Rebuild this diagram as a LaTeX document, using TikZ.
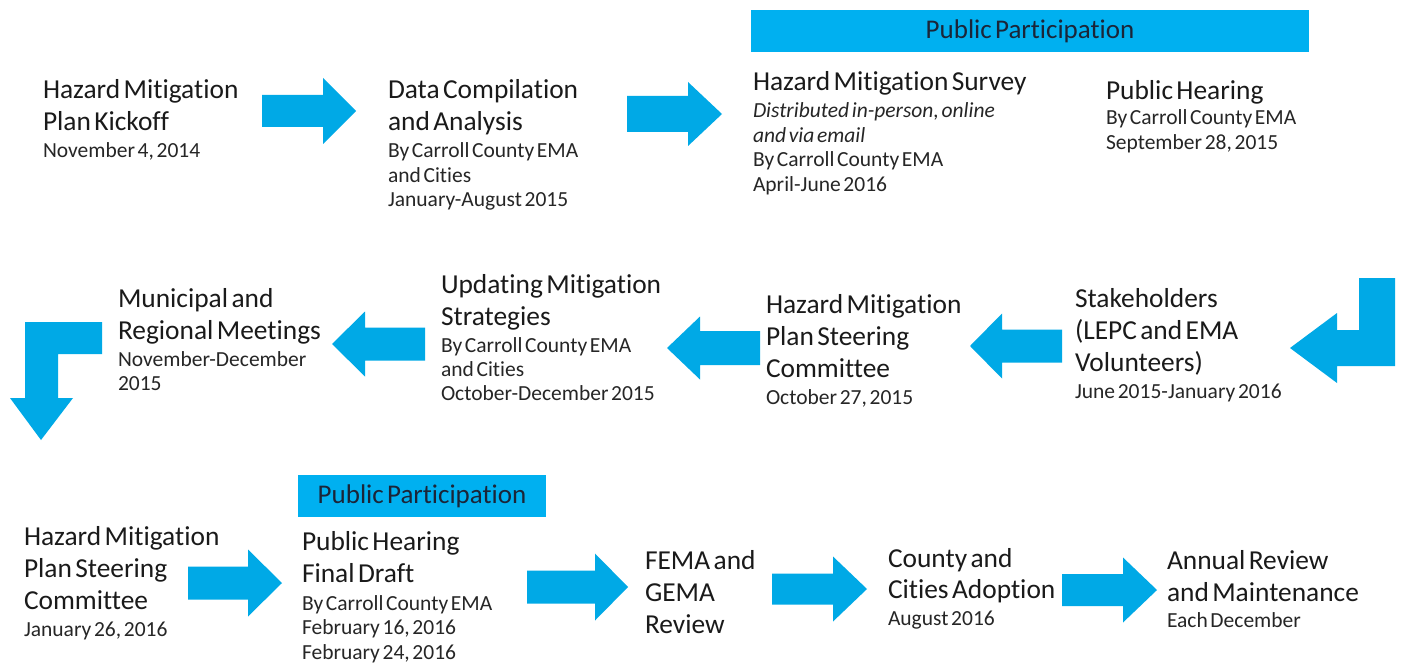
\documentclass[tikz,border=0pt]{standalone}
\usepackage{fontspec}
\setmainfont{Carlito}[WordSpace=0.55, Ligatures={NoCommon,NoContextual}]
\definecolor{arrowblue}{HTML}{00A9E6}
\definecolor{bannerblue}{HTML}{00B0F0}
\definecolor{headcol}{HTML}{1A1A1A}
\definecolor{subcol}{HTML}{262626}
\definecolor{bannertext}{HTML}{1B2538}

% line helpers for the stacked text blocks
\newcommand\bigln[1]{\hbox{\fontsize{27.4}{32}\selectfont\color{headcol}#1}}
\newcommand\smln[1]{\hbox{\fontsize{21.5}{24.5}\selectfont\color{subcol}#1}}
\newcommand\itln[1]{\hbox{\fontsize{21.5}{24.5}\selectfont\itshape\color{subcol}#1}}
\newcommand\sk[1]{\baselineskip=#1pt\relax}
\newcommand\stack[1]{\vtop{\lineskiplimit=-1000pt\relax #1}}

% horizontal block arrow: tail x, head base x, tip x, centre y, shaft half, head half
\newcommand\harrow[6]{%
  \fill[arw] (#1,#4-#5) -- (#2,#4-#5) -- (#2,#4-#6) -- (#3,#4)
     -- (#2,#4+#6) -- (#2,#4+#5) -- (#1,#4+#5) -- cycle;}

\tikzset{
  arw/.style={fill=arrowblue},
  blk/.style={anchor=base west, inner sep=0pt, outer sep=0pt},
  banner/.style={fill=bannerblue, inner sep=0pt, text=bannertext,
    font=\fontsize{27}{32}\selectfont},
}

\begin{document}
\begin{tikzpicture}[x=1pt, y=-1pt]
\fill[white] (0,0) rectangle (1407,663);
\useasboundingbox (0,0) rectangle (1407,663);

% banners
\node[banner, minimum width=558pt, minimum height=42pt] (pp1) at (1030,31) {Public Participation};
\node[banner, minimum width=248pt, minimum height=42pt] (pp2) at (422,496) {Public Participation};

% first row
\node[blk] (kick) at (43,99) {\stack{\sk{32}\bigln{Hazard Mitigation}\bigln{Plan Kickoff}%
  \sk{27}\smln{November 4, 2014}}};
\node[blk] (data) at (388,99) {\stack{\sk{32}\bigln{Data Compilation}\bigln{and Analysis}%
  \sk{27}\smln{By Carroll County EMA}\sk{24.5}\smln{and Cities}\smln{January-August 2015}}};
\node[blk] (survey) at (753,91) {\stack{\sk{32}\bigln{Hazard Mitigation Survey}%
  \sk{27}\itln{Distributed in-person, online}\sk{24.5}\itln{and via email}%
  \smln{By Carroll County EMA}\smln{April-June 2016}}};
\node[blk] (hear1) at (1106,100) {\stack{\sk{32}\bigln{Public Hearing}%
  \sk{25}\smln{By Carroll County EMA}\smln{September 28, 2015}}};

% second row
\node[blk] (muni) at (118,307) {\stack{\sk{32}\bigln{Municipal and}\bigln{Regional Meetings}%
  \sk{27}\smln{November-December}\sk{24}\smln{2015}}};
\node[blk] (upd) at (441,293) {\stack{\sk{32}\bigln{Updating Mitigation}\bigln{Strategies}%
  \sk{27}\smln{By Carroll County EMA}\sk{24}\smln{and Cities}\smln{October-December 2015}}};
\node[blk] (steer1) at (766,313) {\stack{\sk{32}\bigln{Hazard Mitigation}\bigln{Plan Steering}\bigln{Committee}%
  \sk{27}\smln{October 27, 2015}}};
\node[blk] (stake) at (1075,307) {\stack{\sk{32}\bigln{Stakeholders}\bigln{(LEPC and EMA}\bigln{Volunteers)}%
  \sk{27}\smln{June 2015-January 2016}}};

% third row
\node[blk] (steer2) at (24,545) {\stack{\sk{32}\bigln{Hazard Mitigation}\bigln{Plan Steering}\bigln{Committee}%
  \sk{27}\smln{January 26, 2016}}};
\node[blk] (hear2) at (302,550) {\stack{\sk{32}\bigln{Public Hearing}\bigln{Final Draft}%
  \sk{28}\smln{By Carroll County EMA}\sk{24.5}\smln{February 16, 2016}\smln{February 24, 2016}}};
\node[blk] (fema) at (645,569) {\stack{\sk{32}\bigln{FEMA and}\bigln{GEMA}\bigln{Review}}};
\node[blk] (county) at (888,567) {\stack{\sk{31}\bigln{County and}\bigln{Cities Adoption}%
  \sk{27}\smln{August 2016}}};
\node[blk] (annual) at (1167,569) {\stack{\sk{32}\bigln{Annual Review}\bigln{and Maintenance}%
  \sk{26}\smln{Each December}}};

% block arrows, first row
\harrow{262}{323}{356}{111}{16}{33}
\harrow{627}{688}{722}{114}{18}{32}

% turn from first row into second row
\fill[arw] (1395,278) -- (1395,366) -- (1337,366) -- (1337,383) -- (1290,348)
  -- (1337,313) -- (1337,330) -- (1359,330) -- (1359,278) -- cycle;

% block arrows, second row
\harrow{1062}{1002}{970}{346}{16.5}{32.5}
\harrow{760}{700}{667}{348}{17}{31.5}
\harrow{425}{365}{332}{344}{16.5}{32.5}

% turn from second row into third row
\fill[arw] (25,322) -- (102,322) -- (102,354) -- (58,354) -- (58,398) -- (73,398)
  -- (41,440) -- (10,398) -- (25,398) -- cycle;

% block arrows, third row
\harrow{188}{248}{282}{583}{16.5}{33.5}
\harrow{527}{595}{628}{587}{16.5}{33.5}
\harrow{772}{833}{867}{589}{15.5}{32.5}
\harrow{1062}{1123}{1157}{590}{16}{32.5}
\end{tikzpicture}
\end{document}
